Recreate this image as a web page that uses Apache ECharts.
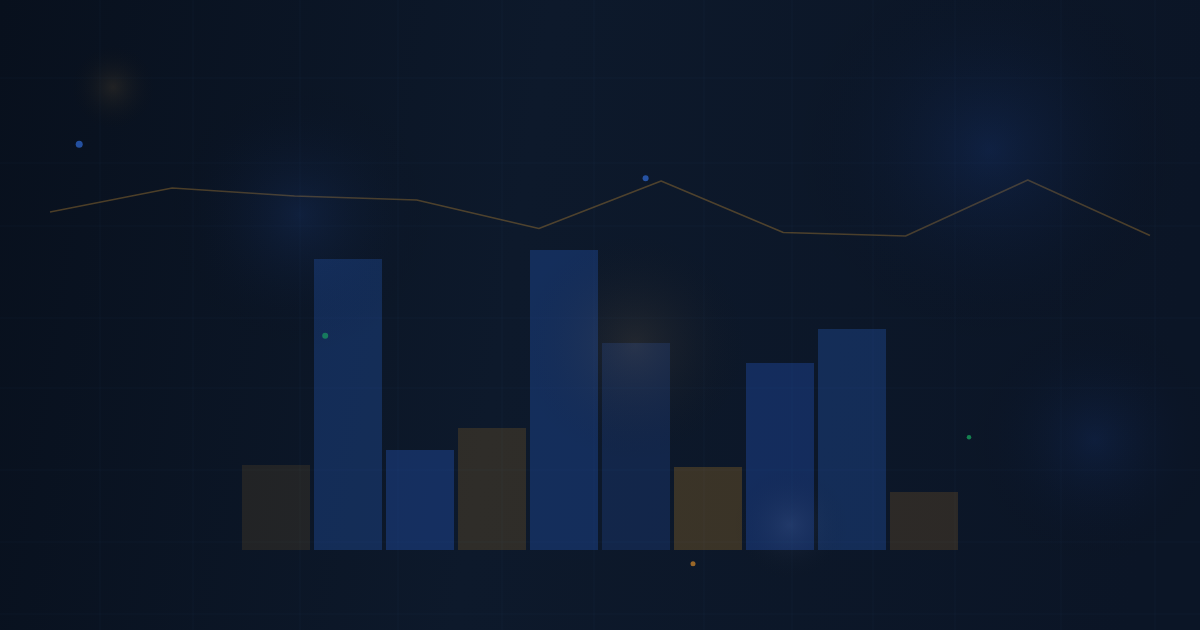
<!DOCTYPE html>
<html>
<head>
<meta charset="utf-8">
<script src="https://cdn.jsdelivr.net/npm/echarts@6/dist/echarts.min.js"></script>
<style>
html,body{margin:0;padding:0;background:#0b1424;}
#chart{width:1200px;height:630px;}
</style>
</head>
<body>
<div id="chart"></div>
<script>
// ---- data ----
const categories = ['1','2','3','4','5','6','7','8','9','10'];
const barValues = [17.0, 58.2, 20.0, 24.4, 60.0, 41.4, 16.6, 37.4, 44.2, 11.6];
const lineValues = [67.6, 72.4, 70.8, 70.0, 64.3, 73.8, 63.5, 62.8, 74.0, 62.9];
// scattered accent points (x %, y %) on a full-canvas value grid
const bluePointsLarge = [[6.6, 77.1]];
const bluePointsSmall = [[53.8, 71.7]];
const greenPointsLarge = [[27.1, 46.7]];
const greenPointsSmall = [[80.75, 30.6]];
const amberPoints = [[57.75, 10.5]];

// ---- styling ----
const barColors = [
  'rgba(245,166,35,0.10)',
  'rgba(40,95,200,0.30)',
  'rgba(40,95,210,0.32)',
  'rgba(245,166,35,0.145)',
  'rgba(40,95,200,0.31)',
  'rgba(40,90,190,0.22)',
  'rgba(245,166,35,0.20)',
  'rgba(40,95,210,0.31)',
  'rgba(40,95,200,0.30)',
  'rgba(245,166,35,0.14)'
];
const vLines = [100,193,300,398,502,594,704,792,873,955,1061,1155];
const hLines = [78,163,226,318,388,470,542,614];
const glows = [
  {x:113,y:87,r:45,c:'rgba(190,140,60,0.13)'},
  {x:300,y:215,r:140,c:'rgba(40,85,180,0.16)'},
  {x:990,y:150,r:200,c:'rgba(30,75,170,0.20)'},
  {x:1095,y:440,r:130,c:'rgba(30,75,170,0.16)'},
  {x:635,y:345,r:120,c:'rgba(210,160,90,0.11)'},
  {x:790,y:525,r:60,c:'rgba(150,170,210,0.10)'}
];

const graphics = [];
graphics.push({type:'rect',z:-10,silent:true,shape:{x:0,y:0,width:1200,height:630},
  style:{fill:{type:'linear',x:0,y:0,x2:1,y2:0.3,colorStops:[
    {offset:0,color:'#08101d'},{offset:0.45,color:'#0d192b'},{offset:1,color:'#0b1526'}]}}});
vLines.forEach(x=>graphics.push({type:'line',z:-9,silent:true,shape:{x1:x,y1:0,x2:x,y2:630},
  style:{stroke:'rgba(120,150,200,0.045)',lineWidth:1}}));
hLines.forEach(y=>graphics.push({type:'line',z:-9,silent:true,shape:{x1:0,y1:y,x2:1200,y2:y},
  style:{stroke:'rgba(120,150,200,0.045)',lineWidth:1}}));
glows.forEach(g=>graphics.push({type:'circle',z:100,silent:true,shape:{cx:g.x,cy:g.y,r:g.r},
  style:{fill:{type:'radial',x:0.5,y:0.5,r:0.5,colorStops:[
    {offset:0,color:g.c},{offset:1,color:'rgba(0,0,0,0)'}]}}}));

const chart = echarts.init(document.getElementById('chart'), null, {renderer:'canvas'});
chart.setOption({
  backgroundColor:'transparent',
  animation:false,
  graphic: graphics,
  grid:[
    {left:240,right:240,top:50,bottom:80},
    {left:50,right:50,top:50,bottom:80},
    {left:0,right:0,top:0,bottom:0}
  ],
  xAxis:[
    {type:'category',gridIndex:0,data:categories,boundaryGap:true,show:false},
    {type:'category',gridIndex:1,data:categories,boundaryGap:false,show:false},
    {type:'value',gridIndex:2,min:0,max:100,show:false}
  ],
  yAxis:[
    {type:'value',gridIndex:0,min:0,max:100,show:false},
    {type:'value',gridIndex:1,min:0,max:100,show:false},
    {type:'value',gridIndex:2,min:0,max:100,show:false}
  ],
  series:[
    {type:'bar',xAxisIndex:0,yAxisIndex:0,barWidth:68,silent:true,
     data:barValues.map((v,i)=>({value:v,itemStyle:{color:barColors[i]}}))},
    {type:'line',xAxisIndex:1,yAxisIndex:1,data:lineValues,symbol:'none',silent:true,
     lineStyle:{color:'rgba(170,125,50,0.42)',width:1.6}},
    {type:'scatter',xAxisIndex:2,yAxisIndex:2,data:bluePointsLarge,symbolSize:7,silent:true,
     itemStyle:{color:'rgba(50,110,220,0.85)'}},
    {type:'scatter',xAxisIndex:2,yAxisIndex:2,data:bluePointsSmall,symbolSize:6,silent:true,
     itemStyle:{color:'rgba(50,110,220,0.85)'}},
    {type:'scatter',xAxisIndex:2,yAxisIndex:2,data:greenPointsLarge,symbolSize:6,silent:true,
     itemStyle:{color:'rgba(25,170,100,0.8)'}},
    {type:'scatter',xAxisIndex:2,yAxisIndex:2,data:greenPointsSmall,symbolSize:4.5,silent:true,
     itemStyle:{color:'rgba(25,180,100,0.85)'}},
    {type:'scatter',xAxisIndex:2,yAxisIndex:2,data:amberPoints,symbolSize:5,silent:true,
     itemStyle:{color:'rgba(220,140,40,0.85)'}}
  ]
});
</script>
</body>
</html>
